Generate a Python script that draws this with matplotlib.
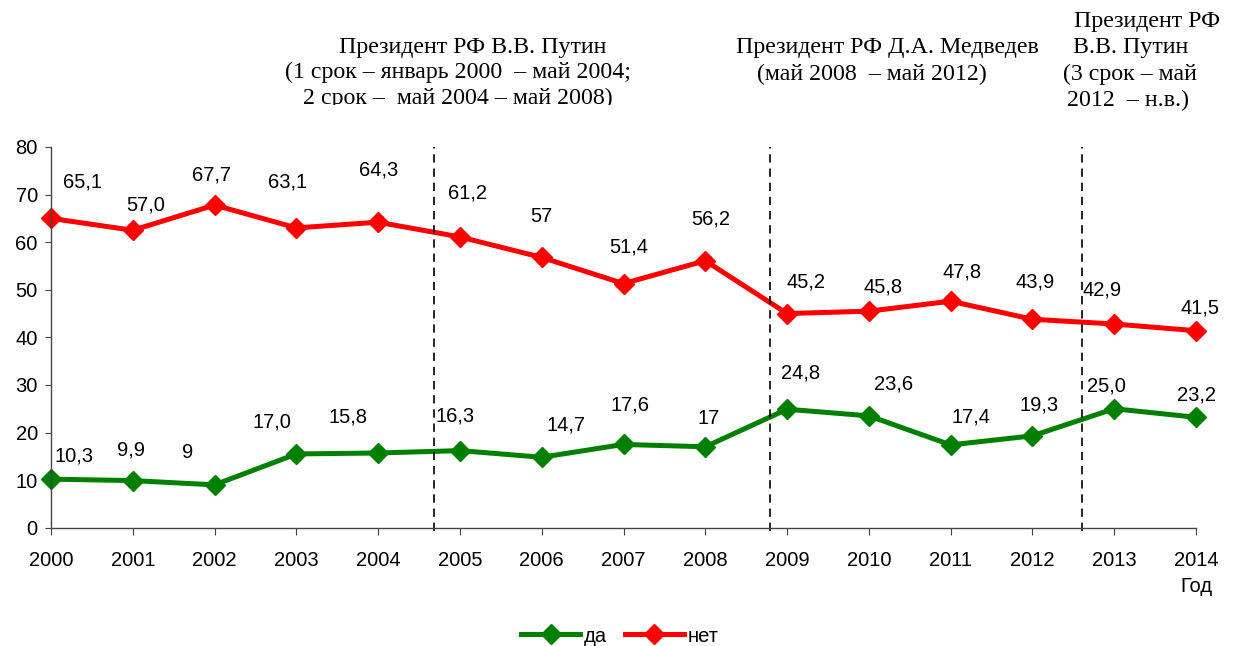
import matplotlib
matplotlib.use("Agg")
import matplotlib.pyplot as plt
from matplotlib.transforms import Bbox

years = list(range(2000, 2015))
year_labels = [str(y) for y in years]

# values
da_values = [10.2, 9.9, 9.0, 15.5, 15.7, 16.2, 14.8, 17.5, 17.0, 24.9, 23.5, 17.4, 19.3, 25.0, 23.2]
net_values = [65.0, 62.5, 67.8, 63.0, 64.2, 61.1, 56.8, 51.3, 56.1, 45.0, 45.5, 47.6, 43.8, 42.8, 41.4]

# data labels as printed on the chart
da_labels = ["10,3", "9,9", "9", "17,0", "15,8", "16,3", "14,7", "17,6", "17",
             "24,8", "23,6", "17,4", "19,3", "25,0", "23,2"]
net_labels = ["65,1", "57,0", "67,7", "63,1", "64,3", "61,2", "57", "51,4", "56,2",
              "45,2", "45,8", "47,8", "43,9", "42,9", "41,5"]

# label offsets in pixels (dx, dy up)
da_off = [(23, 23), (-2, 31), (-27, 32), (-24, 32), (-30, 36), (-5, 35), (24, 32), (6, 39),
          (3, 28), (13, 36), (25, 32), (20, 28), (7, 31), (-8, 23), (0, 22)]
net_off = [(32, 36), (13, 25), (-3, 30), (-9, 46), (0, 52), (8, 44), (0, 41), (5, 37),
           (5, 42), (19, 32), (14, 24), (11, 29), (3, 37), (-12, 34), (4, 23)]

# presidential term boundaries (in category units)
term_lines = [4.68, 8.79, 12.61]

W, H = 1234, 646
fig = plt.figure(figsize=(W / 100, H / 100), dpi=100)
ax = fig.add_axes([51 / W, 1 - 527.7 / H, (1196 - 51) / W, (527.7 - 147) / H])

sans = "Liberation Sans"
serif = "Liberation Serif"
fs = 14.5

x = list(range(len(years)))
ax.plot(x, da_values, color="#008000", lw=3.6, marker="D", ms=10, label="да", clip_on=False)
ax.plot(x, net_values, color="#FF0000", lw=3.6, marker="D", ms=10, label="нет", clip_on=False)

for i in x:
    ax.annotate(da_labels[i], (i, da_values[i]), xytext=da_off[i], textcoords="offset pixels",
                ha="center", va="center", fontsize=fs, family=sans)
    ax.annotate(net_labels[i], (i, net_values[i]), xytext=net_off[i], textcoords="offset pixels",
                ha="center", va="center", fontsize=fs, family=sans)

for t in term_lines:
    ax.plot([t, t], [-0.6, 80], color="black", lw=1.2, ls=(0, (5, 3.5)), clip_on=False)

ax.set_xlim(0, 14)
ax.set_ylim(0, 80)
ax.set_xticks(x)
ax.set_xticklabels(year_labels, fontsize=fs, family=sans)
ax.set_yticks(range(0, 81, 10))
ax.set_yticklabels([str(v) for v in range(0, 81, 10)], fontsize=fs, family=sans)
ax.tick_params(axis="x", length=5, pad=12, color="#444444")
ax.tick_params(axis="y", length=4.5, pad=5, color="#444444")
for s in ["top", "right"]:
    ax.spines[s].set_visible(False)
for s in ["left", "bottom"]:
    ax.spines[s].set_color("#444444")
    ax.spines[s].set_linewidth(1.0)

fig.text(1213 / W, 1 - 587 / H, "Год", ha="right", va="center", fontsize=fs, family=sans)

def ftext(px, py, s):
    return fig.text(px / W, 1 - py / H, s, ha="center", va="center", fontsize=17.2, family=serif)

ftext(473, 47, "Президент РФ В.В. Путин")
ftext(458, 72, "(1 срок – январь 2000  – май 2004;")
t3 = ftext(458, 98, "2 срок –  май 2004 – май 2008)")
# bottom of this line is cut off in the original text box
t3.set_clip_box(Bbox([[0, H - 105], [W, H]]))
t3.set_clip_on(True)
ftext(887, 48, "Президент РФ Д.А. Медведев")
ftext(872, 74, "(май 2008  – май 2012)")
ftext(1147, 22, "Президент РФ")
ftext(1131, 48, "В.В. Путин")
ftext(1130, 74, "(3 срок – май")
ftext(1128, 100, "2012  – н.в.)")

fig.legend(loc="center", bbox_to_anchor=(620 / W, 1 - 636 / H), ncol=2, frameon=False,
           prop={"family": sans, "size": fs}, handlelength=2.9, handletextpad=0.2,
           columnspacing=0.9, borderaxespad=0)

fig.savefig("out.png", dpi=100)
